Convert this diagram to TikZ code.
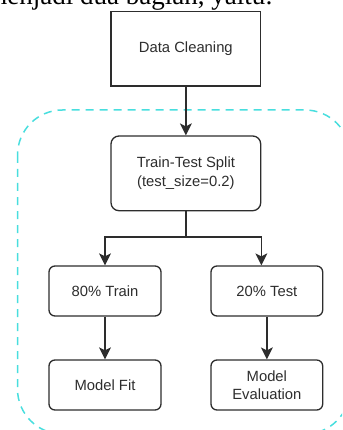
\documentclass[tikz,border=0pt]{standalone}
\usepackage{fontspec}
\setmainfont{Liberation Sans}
\newfontfamily\seriffont{Liberation Serif}
\usetikzlibrary{arrows.meta}
\definecolor{dashc}{RGB}{72,222,222}
\definecolor{linec}{RGB}{45,45,45}
\begin{document}
\begin{tikzpicture}[x=1pt,y=-1pt,
  box/.style={draw=linec, line width=1.3pt, text=linec, align=center, inner sep=0pt,
    font=\fontsize{14.8}{18.5}\selectfont},
  rbox/.style={box, rounded corners=8pt},
  arr/.style={draw=linec, line width=1.3pt, -{Stealth[length=12pt,width=12pt,inset=3pt]}},
  group/.style={draw=dashc, line width=1.5pt, dash pattern=on 8pt off 6pt, rounded corners=45pt}]
\useasboundingbox (0,0) rectangle (342,430);
\clip (0,0) rectangle (342,430);
% cropped caption line at the top
\node[anchor=base east, inner sep=0pt, font=\seriffont\fontsize{27}{32}\selectfont] (cap) at (273,5) {menjadi dua bagian, yaitu:};
% dashed group
\draw[group] (17.5,110) rectangle (350,434);
% nodes
\node[box, minimum width=149.7pt, minimum height=74.3pt] (dc) at (185.85,48.85) {Data Cleaning};
\node[rbox, minimum width=149.7pt, minimum height=74.7pt] (split) at (185.85,173.35) {Train-Test Split\\(test\_size=0.2)};
\node[rbox, rounded corners=6pt, minimum width=112pt, minimum height=50pt] (train) at (105,291) {80\% Train};
\node[rbox, rounded corners=6pt, minimum width=111.7pt, minimum height=50pt] (test) at (266.85,291) {20\% Test};
\node[rbox, rounded corners=6pt, minimum width=112pt, minimum height=50pt] (fit) at (105,385) {Model Fit};
\node[rbox, rounded corners=6pt, minimum width=111.7pt, minimum height=50pt] (eval) at (266.85,385) {Model\\Evaluation};
% connectors
\draw[arr] (dc.south) -- (split.north);
\draw[arr] (split.south) -- ++(0,25.5) -| (train.north);
\draw[arr] (split.south) -- ++(0,25.5) -| (split.south east |- test.north);
\draw[arr] (train.south) -- (fit.north);
\draw[arr] (test.south) -- (eval.north);
\end{tikzpicture}
\end{document}
